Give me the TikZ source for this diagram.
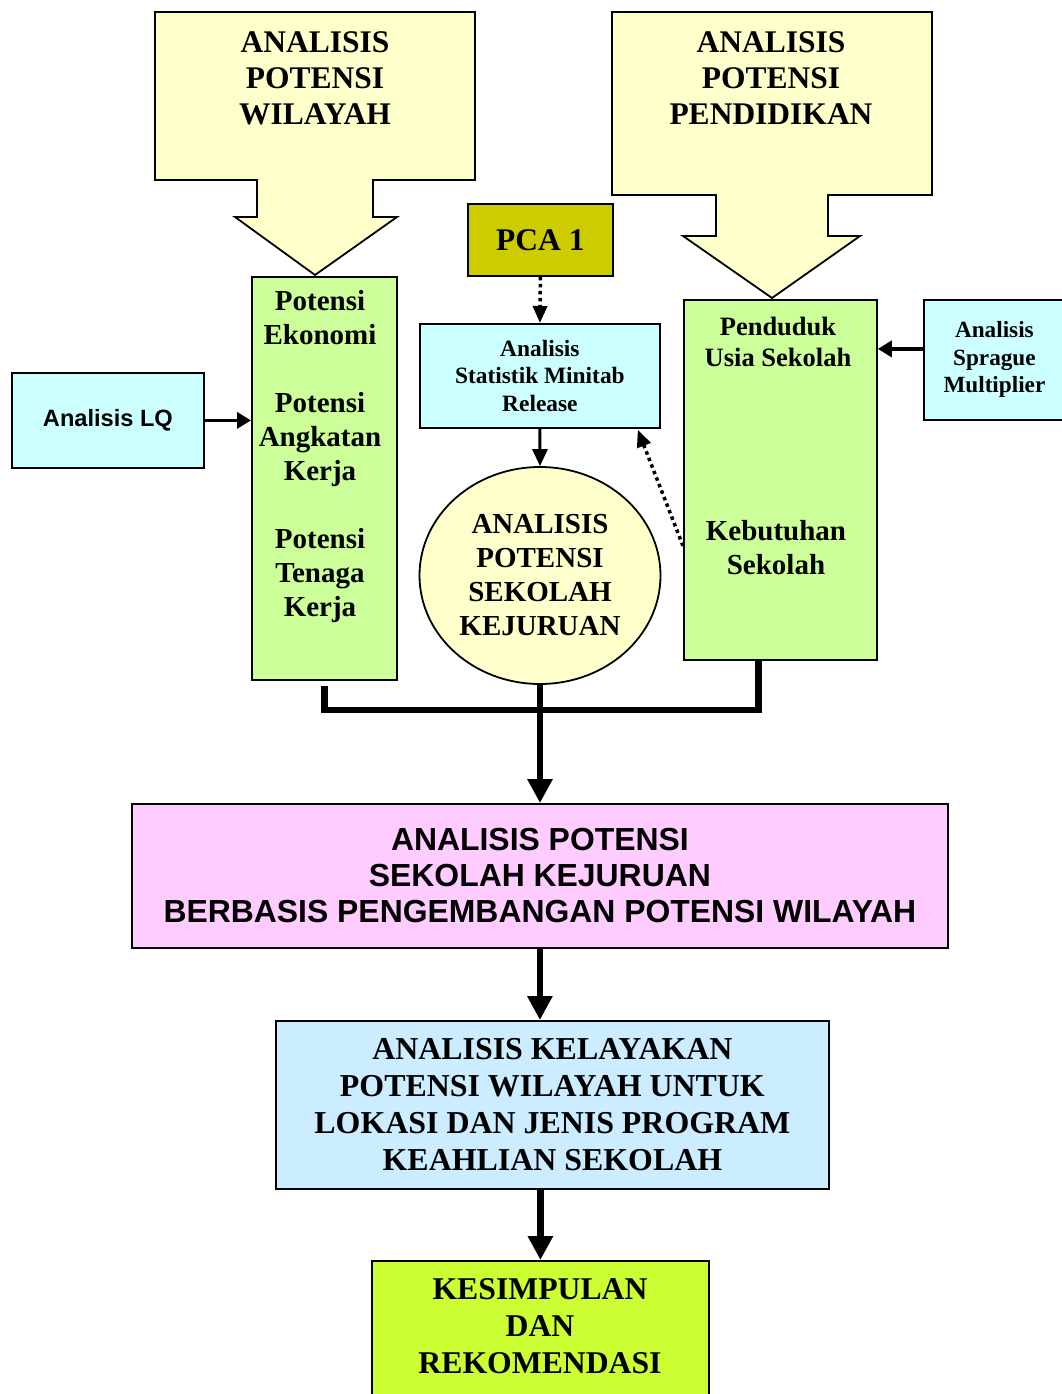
\documentclass[tikz,border=0pt]{standalone}
\usepackage{fontspec}
\setmainfont{Liberation Serif}
\setsansfont{Liberation Sans}
\usepackage{xcolor}
\definecolor{PotYellow}{HTML}{FFFFCC}
\definecolor{PotGreen} {HTML}{CCFF99}
\definecolor{PotCyan}  {HTML}{CCFFFF}
\definecolor{PotOlive} {HTML}{CCCC00}
\definecolor{PotPink}  {HTML}{FFCCFF}
\definecolor{PotBlue}  {HTML}{CCECFF}
\definecolor{PotLime}  {HTML}{CCFF33}
\usetikzlibrary{arrows.meta,positioning,shapes.geometric}
\tikzset{
  potbox/.style={rectangle,draw=black,line width=1.8pt,
    anchor=north west,inner sep=0pt,align=center},
  calloutarrow/.style={draw=black,fill=PotYellow,line width=1.8pt,
    line join=miter},
  headtext/.style={font=\bfseries\fontsize{31.5}{36}\selectfont,
    align=center,inner sep=0pt},
  midtext/.style={font=\bfseries\fontsize{29}{34}\selectfont,
    align=center,inner sep=0pt},
  smalltext/.style={font=\bfseries\fontsize{23.4}{27.5}\selectfont},
  flowedge/.style={-{Triangle[length=24pt,width=24pt]},line width=6.5pt},
  joinedge/.style={line width=6.5pt,line join=miter},
  sideedge/.style={-{Triangle[length=14pt,width=16pt]},line width=3.5pt},
  thinedge/.style={-{Triangle[length=17pt,width=15pt]},line width=3pt},
  dotedge/.style={-{Triangle[length=17pt,width=14pt]},line width=3.5pt,
    dash pattern=on 3.5pt off 3.5pt},
}

\begin{document}
\begin{tikzpicture}[x=1pt,y=-1pt]
  \useasboundingbox (0,0) rectangle (1061,1394);
  \draw[calloutarrow] (155,12) -- (475,12) -- (475,180) -- (373,180)
    -- (373,217) -- (397,217) -- (315,275) -- (235,217) -- (257,217)
    -- (257,180) -- (155,180) -- cycle;
  \node[headtext](wilayah)at(315,78){ANALISIS\\POTENSI\\WILAYAH};
  \draw[calloutarrow] (612,12) -- (932,12) -- (932,195) -- (828,195)
    -- (828,236) -- (860,236) -- (772,298) -- (683,236) -- (716,236)
    -- (716,195) -- (612,195) -- cycle;
  \node[headtext](pendidikan)at(771,78){ANALISIS\\POTENSI\\PENDIDIKAN};

  \node[potbox,fill=PotOlive,minimum width=145pt,minimum height=72pt,
    font=\bfseries\fontsize{31.5}{36}\selectfont](pca)at(467,203){PCA 1};
  \node[potbox,fill=PotCyan,minimum width=240pt,minimum height=104pt,
    smalltext](stat)at(419,323)
    {Analisis\\Statistik Minitab\\Release};
  \node[ellipse,draw=black,line width=1.8pt,fill=PotYellow,
    minimum width=241pt,minimum height=217pt,inner sep=0pt,
    midtext](sekolah)at(540,575.5){ANALISIS\\POTENSI\\SEKOLAH\\KEJURUAN};

  \node[potbox,fill=PotGreen,minimum width=145pt,minimum height=403pt]
    (wilgreen)at(251,276){};
  \node[midtext](wiltext)at(320,456.5)
    {Potensi\\Ekonomi\\[34pt]Potensi\\Angkatan\\Kerja\\[34pt]%
     Potensi\\Tenaga\\Kerja};
  \node[potbox,fill=PotCyan,minimum width=192pt,minimum height=95pt,
    font=\sffamily\bfseries\fontsize{23.6}{28}\selectfont]
    (lq)at(11,372){Analisis LQ};

  \node[potbox,fill=PotGreen,minimum width=193pt,minimum height=360pt]
    (pdkgreen)at(683,299){};
  \node[font=\bfseries\fontsize{26.5}{31}\selectfont,align=center,
    inner sep=0pt](usia)at(778,342){Penduduk\\Usia Sekolah};
  \node[midtext](butuh)at(776,548){Kebutuhan\\Sekolah};
  \node[potbox,fill=PotCyan,minimum width=141pt,minimum height=120pt,
    font=\bfseries\fontsize{23.2}{27.5}\selectfont]
    (sprague)at(923,299){Analisis\\Sprague\\Multiplier};

  \node[potbox,fill=PotPink,minimum width=816pt,minimum height=144pt,
    font=\sffamily\bfseries\fontsize{31.9}{36}\selectfont]
    (berbasis)at(131,803)
    {ANALISIS POTENSI\\SEKOLAH KEJURUAN\\%
     BERBASIS PENGEMBANGAN POTENSI WILAYAH};
  \node[potbox,fill=PotBlue,minimum width=553pt,minimum height=168pt,
    font=\bfseries\fontsize{31.9}{37}\selectfont]
    (kelayakan)at(275,1020)
    {ANALISIS KELAYAKAN\\POTENSI WILAYAH UNTUK\\%
     LOKASI DAN JENIS PROGRAM\\KEAHLIAN SEKOLAH};
  \node[potbox,fill=PotLime,minimum width=337pt,minimum height=170pt]
    (kesimpulan)at(371,1260){};
  \node[font=\bfseries\fontsize{31.7}{37}\selectfont,align=center,
    inner sep=0pt](kestext)at(540,1326){KESIMPULAN\\DAN\\REKOMENDASI};

  \draw[dotedge](pca.south)--(stat.north);
  \draw[thinedge](stat.south)--(sekolah.north);
  \draw[sideedge](lq.east)--(lq.east-|wilgreen.west);
  \draw[sideedge]([yshift=11pt]sprague.west)
    --([yshift=11pt]sprague.west-|pdkgreen.east);
  \draw[dotedge]([yshift=-66pt]pdkgreen.west)
    --([xshift=-23pt,yshift=-1pt]stat.south east);
  \draw[joinedge]([yshift=-5pt]wilgreen.south)--++(0,24)
    -|([xshift=-22pt]pdkgreen.south);
  \draw[flowedge](sekolah.south)--(sekolah.south|-berbasis.north);
  \draw[flowedge](berbasis.south)--(berbasis.south|-kelayakan.north);
  \draw[flowedge](kesimpulan.north|-kelayakan.south)--(kesimpulan.north);
\end{tikzpicture}
\end{document}
